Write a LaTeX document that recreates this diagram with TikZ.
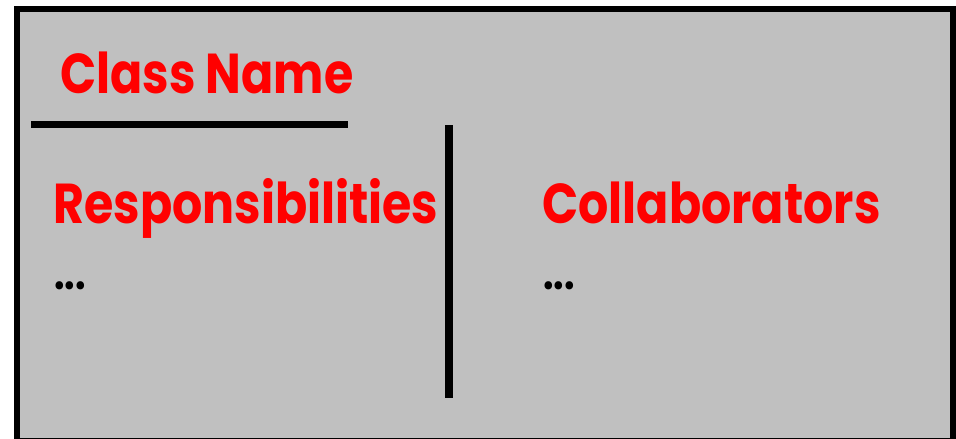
\documentclass[tikz,border=0pt]{standalone}
\usepackage{fontspec}
\setmainfont{Poppins}
\definecolor{cardgray}{RGB}{192,192,192}
\begin{document}
\begin{tikzpicture}[x=0.02cm, y=-0.02cm,
  heading/.style={text=red, font=\bfseries\fontsize{32}{38}\selectfont, inner sep=0pt, anchor=base west, xscale=0.845},
  dots/.style={font=\bfseries\fontsize{25}{30}\selectfont, inner sep=0pt, anchor=base west, xscale=0.85},
  rule/.style={line width=0.15cm}]
  \useasboundingbox (0, 0) rectangle (956, 439);
  \clip (0, 0) rectangle (956, 439);
  \draw[line width=0.12cm, fill=cardgray] (17, 9) rectangle (953, 441);
  \node[heading] (classname) at (60, 93) {Class Name};
  \node[heading] (resp) at (53, 223) {Responsibilities};
  \node[heading] (collab) at (542, 223) {Collaborators};
  \node[dots] (respdots) at (54, 289) {...};
  \node[dots] (collabdots) at (543, 289) {...};
  \coordinate (nameleft) at (31, 124.5);
  \coordinate (nameright) at (348, 124.5);
  \coordinate (divtop) at (449, 125);
  \coordinate (divbottom) at (449, 398);
  \draw[rule] (nameleft) -- (nameright);
  \draw[rule] (divtop) -- (divbottom);
\end{tikzpicture}
\end{document}
